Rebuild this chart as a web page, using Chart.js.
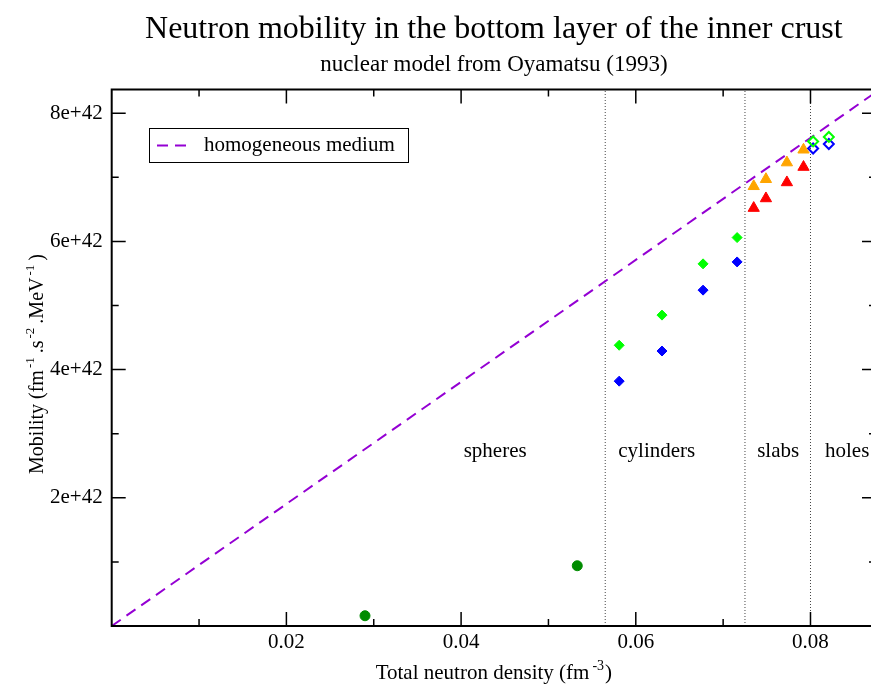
<!DOCTYPE html>
<html><head><meta charset="utf-8">
<script src="https://cdn.jsdelivr.net/npm/chart.js@4/dist/chart.umd.min.js"></script>
<style>
html,body{margin:0;padding:0;background:#fff;overflow:hidden;width:871px;height:684px;}
#wrap{width:890px;height:684px;position:relative;}
canvas{display:block;}
</style></head><body>
<div id="wrap"><canvas id="c" width="890" height="684"></canvas></div>
<script>
// ---- data ----
const sphereDensity = [0.0290, 0.0533];
const sphereMobility = [0.16e42, 0.94e42];
const cylinderDensity = [0.0581, 0.0630, 0.0677, 0.0716];
const cylinderMobilityGreen = [4.38e42, 4.85e42, 5.65e42, 6.06e42];
const cylinderMobilityBlue = [3.82e42, 4.29e42, 5.24e42, 5.68e42];
const slabDensity = [0.0735, 0.0749, 0.0773, 0.0792];
const slabMobilityOrange = [6.86e42, 6.97e42, 7.23e42, 7.43e42];
const slabMobilityRed = [6.52e42, 6.67e42, 6.92e42, 7.16e42];
const holeDensity = [0.0803, 0.0821];
const holeMobilityGreen = [7.56e42, 7.63e42];
const holeMobilityBlue = [7.45e42, 7.52e42];
const homogeneousDensity = [0, 0.0875];
const homogeneousMobility = [0, 8.33e42];
const phaseBoundaries = [0.0565, 0.0725, 0.0800];
const phaseNames = ['spheres', 'cylinders', 'slabs', 'holes'];
const phaseLabelDensity = [0.0439, 0.0624, 0.0763, 0.0842];
const phaseLabelMobility = 2.72e42;
const xTickValues = [0.02, 0.04, 0.06, 0.08];
const xTickLabels = ['0.02', '0.04', '0.06', '0.08'];
const xMinorValues = [0.01, 0.03, 0.05, 0.07];
const yTickValues = [2e42, 4e42, 6e42, 8e42];
const yTickLabels = ['2e+42', '4e+42', '6e+42', '8e+42'];
const yMinorValues = [1e42, 3e42, 5e42, 7e42];
const xRange = [0, 0.0875];
const yRange = [0, 8.37e42];
const TITLE = 'Neutron mobility in the bottom layer of the inner crust';
const SUBTITLE = 'nuclear model from Oyamatsu (1993)';
const LEGEND_LABEL = 'homogeneous medium';

// ---- chart ----
const FONT = "'Liberation Serif', 'Times New Roman', serif";
Chart.defaults.font.family = FONT;
Chart.defaults.color = '#000';
const pts = (xs, ys) => xs.map((x, i) => ({x, y: ys[i]}));
const LINE_COLOR = '#9400D3';
const DASH = [11, 7];

const markerSet = (label, xs, ys, style, color, radius, open) => ({
  label, data: pts(xs, ys), showLine: false,
  pointStyle: style, pointRadius: radius, pointHoverRadius: radius,
  pointBackgroundColor: open ? 'rgba(0,0,0,0)' : color,
  pointBorderColor: color, pointBorderWidth: open ? 2 : 1, order: 0
});

const datasets = [
  markerSet('spheres', sphereDensity, sphereMobility, 'circle', '#008C00', 5, false),
  markerSet('cylinders (green)', cylinderDensity, cylinderMobilityGreen, 'rectRot', '#00FF00', 5, false),
  markerSet('cylinders (blue)', cylinderDensity, cylinderMobilityBlue, 'rectRot', '#0000FF', 5, false),
  markerSet('slabs (orange)', slabDensity, slabMobilityOrange, 'triangle', '#FFA500', 6.5, false),
  markerSet('slabs (red)', slabDensity, slabMobilityRed, 'triangle', '#FF0000', 6.5, false),
  markerSet('holes (green)', holeDensity, holeMobilityGreen, 'rectRot', '#00FF00', 5, true),
  markerSet('holes (blue)', holeDensity, holeMobilityBlue, 'rectRot', '#0000FF', 5, true),
  {label: LEGEND_LABEL, data: pts(homogeneousDensity, homogeneousMobility), showLine: true,
   pointRadius: 0, borderColor: LINE_COLOR, borderWidth: 2, borderDash: DASH, order: 10},
  ...phaseBoundaries.map(b => ({label: 'boundary', data: [{x: b, y: yRange[0]}, {x: b, y: yRange[1]}],
   showLine: true, pointRadius: 0, borderColor: '#444', borderWidth: 1, borderDash: [1, 2], order: 20}))
];

function drawRich(ctx, parts, size, supSize, raise) {
  let total = 0;
  const widths = parts.map(p => {
    ctx.font = (p.sup ? supSize : size) + 'px ' + FONT;
    const w = ctx.measureText(p.t).width + (p.gap || 0);
    total += w; return w;
  });
  let x = -total / 2;
  parts.forEach((p, i) => {
    ctx.font = (p.sup ? supSize : size) + 'px ' + FONT;
    ctx.fillText(p.t, x + (p.gap || 0), p.sup ? -raise : 0);
    x += widths[i];
  });
}

const decor = {
  id: 'decor',
  afterDraw(chart) {
    const {ctx, chartArea: a, scales: {x, y}} = chart;
    ctx.save();
    ctx.strokeStyle = '#000';
    ctx.lineWidth = 1.5;
    const tick = (px, len, vertical) => {
      ctx.beginPath();
      if (vertical) {
        ctx.moveTo(px, a.bottom); ctx.lineTo(px, a.bottom - len);
        ctx.moveTo(px, a.top); ctx.lineTo(px, a.top + len);
      } else {
        ctx.moveTo(a.left, px); ctx.lineTo(a.left + len, px);
        ctx.moveTo(a.right, px); ctx.lineTo(a.right - len, px);
      }
      ctx.stroke();
    };
    xTickValues.forEach(v => tick(x.getPixelForValue(v), 14, true));
    xMinorValues.forEach(v => tick(x.getPixelForValue(v), 7, true));
    yTickValues.forEach(v => tick(y.getPixelForValue(v), 14, false));
    yMinorValues.forEach(v => tick(y.getPixelForValue(v), 7, false));
    ctx.lineWidth = 2;
    ctx.strokeRect(a.left, a.top, a.right - a.left, a.bottom - a.top);

    // phase labels
    ctx.fillStyle = '#000';
    ctx.font = '21px ' + FONT;
    ctx.textAlign = 'center';
    ctx.textBaseline = 'middle';
    phaseNames.forEach((n, i) => ctx.fillText(n, x.getPixelForValue(phaseLabelDensity[i]), y.getPixelForValue(phaseLabelMobility)));

    // legend
    ctx.lineWidth = 1;
    ctx.strokeStyle = '#000';
    ctx.strokeRect(149.5, 128.5, 259, 34);
    ctx.strokeStyle = LINE_COLOR;
    ctx.lineWidth = 2;
    ctx.setLineDash(DASH);
    ctx.beginPath(); ctx.moveTo(157, 145.5); ctx.lineTo(188, 145.5); ctx.stroke();
    ctx.setLineDash([]);
    ctx.textAlign = 'left';
    ctx.font = '21px ' + FONT;
    ctx.fillText(LEGEND_LABEL, 204, 145.5);

    // axis titles
    ctx.textAlign = 'left';
    ctx.textBaseline = 'alphabetic';
    ctx.save();
    ctx.translate((a.left + a.right) / 2, 679);
    drawRich(ctx, [{t: 'Total neutron density (fm'}, {t: '-3', sup: true, gap: 3}, {t: ')', gap: 1}], 21, 14, 9);
    ctx.restore();
    ctx.save();
    ctx.translate(43, 364);
    ctx.rotate(-Math.PI / 2);
    drawRich(ctx, [{t: 'Mobility (fm'}, {t: '-1', sup: true, gap: 2}, {t: '.s', gap: 4}, {t: '-2', sup: true, gap: 2},
      {t: '.MeV', gap: 4}, {t: '-1', sup: true, gap: 2}, {t: ')', gap: 4}], 20, 13, 9);
    ctx.restore();
    ctx.restore();
  }
};

new Chart(document.getElementById('c'), {
  type: 'scatter',
  data: {datasets},
  options: {
    responsive: false, animation: false, devicePixelRatio: 1,
    layout: {padding: {left: 0, right: 14, top: 0, bottom: 0}},
    plugins: {
      legend: {display: false},
      tooltip: {enabled: false},
      title: {display: true, text: TITLE, fullSize: false, color: '#000',
        font: {family: FONT, size: 32, weight: 'normal', lineHeight: 1.2}, padding: {top: 10.8, bottom: 0}},
      subtitle: {display: true, text: SUBTITLE, fullSize: false, color: '#000',
        font: {family: FONT, size: 23, weight: 'normal', lineHeight: 1.2}, padding: {top: 2, bottom: 10.7}}
    },
    scales: {
      x: {type: 'linear', min: xRange[0], max: xRange[1],
        grid: {display: false, drawTicks: false}, border: {display: false},
        ticks: {font: {size: 21}, padding: 4, maxRotation: 0, autoSkip: false, color: '#000',
          callback: v => { const i = xTickValues.indexOf(v); return i >= 0 ? xTickLabels[i] : ''; }},
        afterBuildTicks: s => { s.ticks = xTickValues.map(v => ({value: v})); },
        afterFit: s => { s.height = 58; }},
      y: {type: 'linear', min: yRange[0], max: yRange[1],
        grid: {display: false, drawTicks: false}, border: {display: false},
        ticks: {font: {size: 21}, padding: 9, autoSkip: false, color: '#000',
          callback: v => { const i = yTickValues.indexOf(v); return i >= 0 ? yTickLabels[i] : ''; }},
        afterBuildTicks: s => { s.ticks = yTickValues.map(v => ({value: v})); },
        afterFit: s => { s.width = 111.7; }}
    }
  },
  plugins: [decor]
});
</script>
</body></html>
